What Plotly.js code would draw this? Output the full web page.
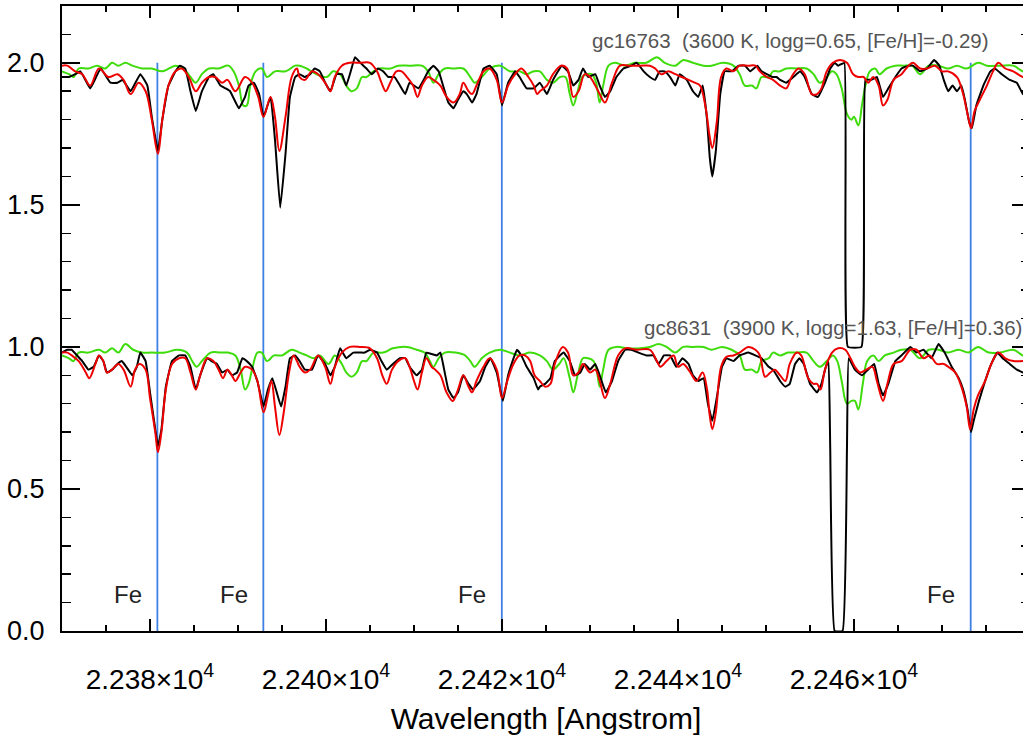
<!DOCTYPE html>
<html><head><meta charset="utf-8">
<script src="https://cdn.plot.ly/plotly-3.0.1.min.js"></script>
<style>html,body{margin:0;padding:0;overflow:hidden;background:#fff}</style>
</head><body><div id="plot" style="width:1032px;height:738px"></div>
<script>
// ---- data: [wavelength (Angstrom), normalized flux (+offset)] ----
const upperObserved = [[22370.0,1.95],[22370.8,1.95],[22371.5,1.96],[22372.1,1.97],[22373.2,1.91],[22374.4,1.98],[22375.5,1.93],[22376.3,1.93],[22376.9,1.94],[22377.8,1.90],[22378.9,1.96],[22379.7,1.92],[22380.2,1.81],[22380.9,1.69],[22381.4,1.80],[22382.1,1.92],[22382.9,1.97],[22383.4,1.99],[22384.0,1.98],[22384.6,1.90],[22385.2,1.83],[22385.9,1.90],[22386.7,1.95],[22387.2,1.96],[22388.0,1.92],[22388.6,1.91],[22389.1,1.90],[22390.1,1.84],[22390.8,1.88],[22391.2,1.92],[22391.8,1.93],[22392.4,1.89],[22392.9,1.81],[22393.7,1.88],[22394.2,1.73],[22394.8,1.49],[22395.4,1.68],[22395.9,1.88],[22396.5,1.95],
[22397.0,1.96],[22397.6,1.95],[22398.2,1.96],[22398.7,1.98],[22399.3,1.97],[22399.9,1.93],[22400.5,1.90],[22401.2,1.96],[22401.8,1.96],[22402.3,1.92],[22402.9,1.98],[22403.3,2.02],[22403.9,2.00],[22404.6,1.98],[22405.2,1.96],[22405.9,1.98],[22406.5,1.97],[22407.1,1.95],[22407.8,1.95],[22408.4,1.92],[22409.0,1.89],[22409.5,1.93],[22410.5,1.91],[22411.1,1.94],[22411.6,1.97],[22412.2,1.99],[22412.8,1.97],[22413.3,1.92],[22413.9,1.86],[22414.5,1.84],[22415.0,1.87],[22415.6,1.90],[22416.0,1.89],[22416.6,1.86],[22417.1,1.89],[22417.9,1.98],[22418.6,1.99],[22419.4,1.96],[22420.0,1.85],[22420.7,1.93],[22421.5,1.97],[22422.0,1.95],[22422.8,1.91],[22423.6,1.91],
[22424.3,1.93],[22425.1,1.89],[22425.8,1.94],[22426.8,1.99],[22427.5,1.97],[22428.1,1.92],[22428.7,1.94],[22429.2,1.98],[22429.8,1.95],[22430.6,1.96],[22431.1,1.92],[22431.7,1.88],[22432.3,1.90],[22433.0,1.95],[22433.8,1.98],[22434.7,1.99],[22435.3,2.00],[22436.1,1.97],[22436.8,1.95],[22437.4,1.94],[22437.9,1.97],[22438.5,1.97],[22439.1,1.95],[22439.7,1.92],[22440.2,1.96],[22441.0,1.94],[22441.7,1.90],[22442.3,1.88],[22442.8,1.92],[22443.3,1.80],[22443.6,1.67],[22443.9,1.60],[22444.3,1.69],[22444.8,1.89],[22445.3,1.97],[22446.1,1.97],[22446.9,1.99],[22447.6,1.99],[22448.2,1.97],[22449.0,1.99],[22449.5,1.97],[22450.1,1.96],[22450.7,1.95],[22451.2,1.95],
[22451.6,1.94],[22452.3,1.93],[22453.1,1.95],[22453.9,1.97],[22454.4,1.95],[22455.2,1.89],[22455.9,1.88],[22456.7,1.93],[22457.3,1.98],[22457.8,2.00],[22458.2,1.99],[22458.9,2.00],[22459.3,1.00],[22460.85,1.00],[22461.3,1.94],[22462.0,1.94],[22462.6,1.95],[22463.3,1.88],[22463.9,1.91],[22464.7,1.95],[22465.4,1.98],[22466.2,1.99],[22466.7,1.99],[22467.5,1.97],[22468.3,1.98],[22469.1,2.01],[22469.7,1.99],[22470.2,1.94],[22470.7,1.90],[22471.2,1.92],[22471.7,1.90],[22472.2,1.92],[22472.6,1.87],[22473.1,1.79],[22473.4,1.77],[22473.9,1.85],[22474.7,1.92],[22475.5,1.97],[22476.0,1.98],[22476.8,1.96],[22477.7,1.94],[22478.5,1.93],[22479.2,1.89],[22480.0,1.88]];

const upperModel = [[22370.0,1.99],[22370.6,1.99],[22371.5,1.97],[22372.3,1.96],[22373.2,1.92],[22374.2,1.98],[22375.3,1.95],[22376.3,1.96],[22377.0,1.94],[22377.8,1.89],[22378.7,1.93],[22379.5,1.90],[22380.2,1.80],[22380.9,1.68],[22381.4,1.80],[22382.1,1.92],[22382.9,1.97],[22383.6,1.98],[22384.4,1.95],[22385.2,1.90],[22385.9,1.93],[22386.7,1.95],[22387.4,1.95],[22388.2,1.93],[22388.8,1.94],[22389.7,1.90],[22390.8,1.95],[22391.6,1.93],[22392.3,1.88],[22392.9,1.81],[22393.7,1.88],[22394.2,1.81],[22394.7,1.69],[22395.4,1.81],[22396.1,1.95],[22396.7,1.98],
[22397.0,1.95],[22397.6,1.94],[22398.4,1.97],[22399.1,1.96],[22399.9,1.93],[22400.5,1.90],[22401.0,1.95],[22401.8,1.99],[22402.7,2.00],[22403.9,2.00],[22405.0,2.00],[22405.8,1.97],[22406.3,1.93],[22406.8,1.90],[22407.3,1.93],[22408.0,1.97],[22408.6,1.97],[22409.2,1.95],[22409.9,1.92],[22410.4,1.88],[22410.9,1.92],[22411.6,1.95],[22412.2,1.94],[22413.0,1.92],[22413.7,1.88],[22414.5,1.86],[22415.2,1.89],[22415.6,1.93],[22416.2,1.90],[22416.6,1.89],[22417.1,1.92],[22417.9,1.97],[22418.6,1.98],[22419.4,1.94],[22420.0,1.86],[22420.7,1.92],[22421.5,1.96],[22422.2,1.98],[22423.0,1.95],[22423.6,1.92],[22424.0,1.89],
[22424.3,1.90],[22425.1,1.92],[22425.8,1.96],[22426.7,1.99],[22427.4,1.98],[22428.1,1.88],[22428.7,1.90],[22429.4,1.96],[22430.0,1.95],[22430.6,1.92],[22431.1,1.89],[22431.7,1.86],[22432.5,1.93],[22433.4,1.99],[22434.4,1.99],[22435.7,1.99],[22436.8,1.99],[22437.4,1.98],[22438.1,1.96],[22438.9,1.97],[22439.7,1.96],[22440.4,1.95],[22441.2,1.94],[22441.9,1.93],[22442.5,1.92],[22443.1,1.85],[22443.6,1.74],[22443.9,1.70],[22444.4,1.79],[22444.9,1.95],[22445.5,1.98],[22446.3,1.97],[22447.0,1.99],[22448.0,1.99],[22448.8,1.99],[22449.3,1.97],[22450.1,1.95],[22450.8,1.94],
[22451.6,1.92],[22452.3,1.91],[22452.9,1.95],[22453.7,1.98],[22454.4,1.96],[22455.2,1.89],[22455.8,1.89],[22456.3,1.91],[22456.9,1.97],[22457.6,2.00],[22458.4,2.01],[22459.2,2.00],[22459.9,1.96],[22460.5,1.95],[22461.1,1.95],[22461.6,1.93],[22462.2,1.95],[22462.8,1.92],[22463.3,1.85],[22463.8,1.87],[22464.5,1.94],[22465.4,1.96],[22466.2,1.99],[22466.7,2.00],[22467.5,1.98],[22468.3,1.98],[22469.2,1.99],[22470.0,1.97],[22470.7,1.97],[22471.7,1.95],[22472.4,1.89],[22472.9,1.82],[22473.3,1.77],[22473.7,1.83],[22474.3,1.87],[22475.1,1.92],[22475.8,1.97],[22476.4,2.00],[22477.2,1.98],[22478.1,1.97],[22479.2,1.95],[22480.0,1.95]];

const upperTelluric = [[22370.0,1.97],[22370.8,1.96],[22371.3,1.95],[22371.9,1.98],[22373.0,1.98],[22374.0,1.99],[22374.9,1.98],[22375.7,2.00],[22376.4,1.99],[22377.2,2.00],[22378.0,1.99],[22379.1,1.98],[22380.2,1.98],[22381.4,1.97],[22382.9,1.99],[22383.8,1.98],[22384.6,1.95],[22385.2,1.93],[22385.9,1.96],[22386.7,1.98],[22387.8,1.98],[22388.9,1.99],[22389.5,1.97],[22390.1,1.92],[22390.6,1.85],[22391.0,1.85],[22391.4,1.92],[22392.0,1.97],[22392.7,1.98],[22393.3,1.95],[22394.2,1.97],[22395.4,1.97],[22396.5,1.99],
[22397.0,1.99],[22397.8,1.98],[22398.9,1.96],[22400.1,1.95],[22400.8,1.97],[22401.6,1.96],[22402.3,1.92],[22402.9,1.90],[22403.5,1.91],[22404.1,1.95],[22404.6,1.95],[22405.4,1.97],[22406.1,1.98],[22407.3,1.98],[22408.2,1.99],[22409.5,1.99],[22410.9,1.99],[22411.6,1.97],[22412.2,1.93],[22412.8,1.96],[22413.5,1.98],[22414.5,1.98],[22415.6,1.98],[22416.4,1.95],[22416.9,1.93],[22417.7,1.95],[22418.6,1.98],[22419.8,1.99],[22420.9,1.97],[22422.0,1.97],[22422.8,1.96],[22423.6,1.97],
[22424.3,1.97],[22425.1,1.94],[22425.8,1.93],[22426.6,1.95],[22427.2,1.95],[22427.7,1.89],[22428.1,1.85],[22428.6,1.90],[22429.1,1.95],[22429.6,1.96],[22430.2,1.96],[22430.7,1.93],[22431.1,1.86],[22431.5,1.92],[22432.1,1.99],[22432.8,2.00],[22434.0,1.99],[22435.1,2.00],[22436.4,2.00],[22437.6,2.02],[22438.5,2.00],[22439.7,1.99],[22440.6,2.01],[22441.7,2.00],[22442.9,1.99],[22443.8,1.99],[22445.1,2.00],[22446.3,1.99],[22447.0,1.96],[22447.6,1.92],[22448.4,1.92],[22448.9,1.91],[22449.5,1.95],[22450.3,1.95],[22450.8,1.97],
[22451.6,1.97],[22452.3,1.98],[22453.5,1.98],[22454.6,1.98],[22455.4,1.96],[22456.1,1.93],[22456.7,1.94],[22457.5,1.97],[22458.0,1.96],[22458.6,1.91],[22459.2,1.82],[22459.7,1.80],[22460.0,1.81],[22460.5,1.78],[22460.9,1.85],[22461.3,1.92],[22461.8,1.97],[22462.4,1.98],[22462.9,1.96],[22463.7,1.98],[22464.7,1.99],[22465.6,1.99],[22466.6,1.99],[22467.5,1.96],[22468.5,1.99],[22469.6,1.99],[22470.7,1.98],[22471.7,1.99],[22472.8,1.98],[22474.1,2.00],[22475.1,1.99],[22476.6,1.99],[22478.1,1.99],[22479.2,1.97],[22480.0,1.97]];

const lowerObserved = [[22370.0,0.98],[22370.6,0.99],[22371.1,0.99],[22371.7,0.97],[22372.3,0.95],[22373.0,0.92],[22373.6,0.93],[22374.2,0.97],[22374.7,0.95],[22375.1,0.91],[22375.7,0.92],[22376.3,0.94],[22376.8,0.95],[22377.3,0.93],[22378.0,0.90],[22378.5,0.93],[22378.9,0.98],[22379.5,0.95],[22380.0,0.84],[22380.6,0.71],[22380.9,0.65],[22381.3,0.71],[22381.8,0.86],[22382.5,0.95],[22383.3,0.97],[22384.0,0.97],[22384.6,0.93],[22385.2,0.85],[22385.7,0.90],[22386.5,0.96],[22387.0,0.95],[22387.6,0.94],[22388.2,0.91],[22388.8,0.92],[22389.3,0.90],[22389.9,0.91],[22390.5,0.96],[22391.0,0.95],[22391.6,0.93],[22392.2,0.88],[22392.9,0.79],[22393.4,0.85],[22393.9,0.89],[22394.4,0.84],[22394.9,0.79],[22395.4,0.86],[22395.9,0.96],[22396.5,0.97],
[22397.0,0.95],[22397.6,0.92],[22398.4,0.92],[22399.1,0.97],[22399.9,0.94],[22400.5,0.90],[22401.0,0.93],[22401.6,0.995],[22402.3,0.96],[22403.1,0.98],[22403.9,0.98],[22404.4,0.98],[22405.0,0.99],[22405.8,0.98],[22406.3,0.95],[22406.9,0.92],[22407.6,0.94],[22408.4,0.96],[22409.0,0.96],[22409.5,0.93],[22410.3,0.90],[22410.9,0.92],[22411.4,0.98],[22412.0,0.975],[22412.6,0.97],[22413.0,0.98],[22413.3,0.94],[22413.9,0.85],[22414.5,0.82],[22415.0,0.84],[22415.6,0.90],[22416.2,0.87],[22416.7,0.85],[22417.5,0.88],[22418.1,0.93],[22418.7,0.96],[22419.4,0.91],[22420.1,0.81],[22420.7,0.90],[22421.2,0.95],[22421.7,0.99],[22422.2,0.97],[22422.8,0.93],[22423.6,0.89],[22424.1,0.85],
[22424.3,0.86],[22424.9,0.87],[22425.5,0.89],[22426.0,0.95],[22427.0,0.98],[22427.7,0.95],[22428.3,0.90],[22428.9,0.91],[22429.4,0.94],[22430.0,0.92],[22430.6,0.94],[22431.1,0.90],[22431.8,0.84],[22432.5,0.88],[22433.2,0.95],[22434.0,0.99],[22434.7,0.99],[22435.5,0.98],[22436.4,0.97],[22437.2,0.97],[22437.8,0.94],[22438.4,0.97],[22439.1,0.97],[22439.8,0.93],[22440.5,0.96],[22441.2,0.94],[22441.7,0.90],[22442.3,0.88],[22442.9,0.89],[22443.4,0.80],[22443.9,0.74],[22444.4,0.82],[22445.0,0.93],[22445.5,0.96],[22446.3,0.95],[22447.0,0.97],[22448.0,0.98],[22448.8,0.97],[22449.5,0.96],[22450.3,0.93],[22450.8,0.92],
[22451.6,0.88],[22452.2,0.86],[22452.7,0.87],[22453.3,0.94],[22453.8,0.96],[22454.3,0.94],[22455.0,0.87],[22455.8,0.84],[22456.3,0.87],[22456.8,0.93],[22457.1,0.95],[22457.3,0.64],[22457.8,0.00],[22458.7,0.00],[22459.2,0.64],[22459.4,0.96],[22460.1,0.92],[22460.9,0.90],[22461.6,0.92],[22462.3,0.94],[22462.8,0.87],[22463.3,0.83],[22463.9,0.87],[22464.7,0.95],[22465.4,0.97],[22466.4,1.00],[22467.1,0.98],[22467.9,0.99],[22468.8,0.96],[22469.6,1.01],[22470.3,0.98],[22471.1,0.93],[22471.9,0.89],[22472.4,0.85],[22472.9,0.78],[22473.3,0.70],[22473.6,0.74],[22474.2,0.81],[22474.9,0.88],[22475.6,0.94],[22476.3,0.98],[22476.9,0.96],[22477.7,0.94],[22478.5,0.92],[22479.2,0.91],[22480.0,0.90]];

const lowerModel = [[22370.0,0.98],[22370.6,0.98],[22371.1,0.97],[22371.9,0.95],[22372.7,0.91],[22373.1,0.89],[22373.8,0.94],[22374.2,0.97],[22374.7,0.95],[22375.1,0.91],[22375.7,0.92],[22376.4,0.94],[22377.0,0.92],[22377.8,0.86],[22378.3,0.92],[22378.8,0.94],[22379.5,0.92],[22380.0,0.82],[22380.6,0.70],[22380.9,0.63],[22381.3,0.70],[22381.8,0.85],[22382.5,0.94],[22383.3,0.96],[22384.0,0.96],[22384.6,0.91],[22385.2,0.85],[22385.7,0.90],[22386.5,0.96],[22387.2,0.95],[22387.8,0.92],[22388.3,0.89],[22388.8,0.92],[22389.3,0.90],[22389.7,0.88],[22390.3,0.91],[22390.8,0.93],[22391.6,0.92],[22392.2,0.88],[22392.9,0.77],[22393.4,0.83],[22393.8,0.88],[22394.2,0.79],[22394.7,0.69],[22395.2,0.77],[22395.8,0.91],[22396.3,0.97],[22396.7,0.95],
[22397.0,0.93],[22397.6,0.91],[22398.2,0.92],[22399.1,0.97],[22399.9,0.93],[22400.5,0.87],[22401.0,0.93],[22401.8,0.98],[22402.7,1.00],[22403.9,1.00],[22405.0,0.995],[22405.8,0.96],[22406.4,0.90],[22406.9,0.87],[22407.5,0.92],[22408.2,0.95],[22409.0,0.96],[22409.5,0.93],[22410.0,0.88],[22410.4,0.85],[22410.9,0.91],[22411.4,0.96],[22412.0,0.93],[22412.4,0.92],[22413.0,0.90],[22413.7,0.84],[22414.4,0.81],[22415.0,0.85],[22415.6,0.90],[22416.2,0.86],[22416.6,0.84],[22417.1,0.88],[22417.9,0.93],[22418.6,0.96],[22419.4,0.92],[22420.0,0.82],[22420.6,0.88],[22421.3,0.94],[22422.0,0.97],[22422.6,0.97],[22423.2,0.95],[22423.7,0.90],
[22424.3,0.88],[22424.9,0.86],[22425.5,0.87],[22426.0,0.94],[22426.9,1.00],[22427.5,0.98],[22428.1,0.90],[22428.7,0.91],[22429.2,0.94],[22430.0,0.91],[22430.6,0.92],[22431.1,0.88],[22431.7,0.82],[22432.3,0.87],[22433.2,0.97],[22434.0,0.995],[22435.3,0.99],[22436.8,0.99],[22437.6,0.95],[22438.0,0.93],[22438.7,0.95],[22439.5,0.97],[22440.0,0.93],[22440.6,0.94],[22441.4,0.91],[22442.1,0.88],[22442.8,0.91],[22443.3,0.85],[22443.6,0.76],[22443.9,0.71],[22444.3,0.77],[22444.9,0.93],[22445.5,0.965],[22446.3,0.97],[22447.0,0.98],[22448.0,1.00],[22448.8,0.99],[22449.3,0.97],[22449.9,0.895],[22450.5,0.91],[22451.0,0.92],
[22451.6,0.90],[22452.2,0.88],[22452.7,0.94],[22453.5,0.98],[22454.0,0.97],[22454.8,0.89],[22455.4,0.87],[22455.8,0.87],[22456.2,0.85],[22456.7,0.92],[22457.5,0.98],[22458.2,0.995],[22459.0,0.99],[22459.6,0.96],[22460.1,0.93],[22460.7,0.91],[22461.4,0.92],[22462.1,0.93],[22462.6,0.88],[22463.3,0.81],[22463.8,0.87],[22464.5,0.94],[22465.4,0.95],[22466.4,0.99],[22467.1,0.99],[22467.9,0.96],[22468.6,0.97],[22469.4,0.94],[22470.2,0.94],[22470.7,0.93],[22471.5,0.91],[22472.2,0.86],[22472.8,0.79],[22473.2,0.71],[22473.6,0.78],[22474.1,0.83],[22474.9,0.88],[22475.6,0.94],[22476.4,0.98],[22477.2,0.96],[22478.1,0.95],[22479.2,0.95],[22480.0,0.95]];

const lowerTelluric = [[22370.0,0.97],[22370.8,0.96],[22371.3,0.95],[22371.9,0.98],[22373.0,0.98],[22374.2,0.99],[22374.9,0.98],[22375.7,0.995],[22376.4,0.98],[22377.2,1.01],[22378.1,0.99],[22379.1,0.98],[22380.2,0.98],[22381.7,0.98],[22383.1,0.99],[22384.2,0.98],[22384.8,0.95],[22385.3,0.93],[22385.9,0.95],[22386.9,0.98],[22388.0,0.98],[22388.9,0.98],[22389.7,0.97],[22390.3,0.92],[22390.8,0.85],[22391.2,0.87],[22391.6,0.92],[22392.2,0.98],[22392.7,0.98],[22393.3,0.95],[22394.1,0.97],[22395.0,0.97],[22396.1,0.99],
[22397.0,0.98],[22397.8,0.97],[22398.6,0.96],[22399.3,0.97],[22400.3,0.94],[22401.0,0.97],[22401.8,0.94],[22402.3,0.91],[22402.9,0.895],[22403.5,0.91],[22404.1,0.95],[22404.6,0.95],[22405.4,0.98],[22406.5,0.98],[22407.6,0.995],[22409.2,1.00],[22410.3,0.99],[22411.2,0.98],[22411.8,0.95],[22412.2,0.93],[22412.8,0.96],[22413.5,0.98],[22414.7,0.98],[22415.8,0.97],[22416.4,0.95],[22416.9,0.93],[22417.7,0.96],[22418.6,0.98],[22419.8,0.99],[22420.9,0.98],[22422.0,0.97],[22423.2,0.98],
[22424.3,0.97],[22425.1,0.95],[22425.8,0.92],[22426.5,0.94],[22427.0,0.96],[22427.7,0.89],[22428.1,0.84],[22428.6,0.90],[22429.2,0.96],[22429.8,0.96],[22430.4,0.95],[22430.8,0.91],[22431.1,0.86],[22431.5,0.92],[22432.1,0.99],[22433.0,1.00],[22434.2,0.995],[22435.7,0.995],[22436.8,1.00],[22437.8,1.01],[22438.7,1.00],[22439.7,0.98],[22440.6,1.00],[22441.7,1.00],[22442.9,1.00],[22443.8,0.99],[22445.0,1.00],[22446.1,0.99],[22447.0,0.97],[22447.6,0.92],[22448.4,0.92],[22449.0,0.91],[22449.5,0.95],[22450.3,0.96],[22450.8,0.98],
[22451.6,0.97],[22452.5,0.98],[22453.5,0.98],[22454.6,0.98],[22455.4,0.95],[22456.1,0.93],[22456.9,0.95],[22457.6,0.97],[22458.1,0.95],[22458.6,0.88],[22459.2,0.80],[22459.7,0.81],[22460.1,0.81],[22460.5,0.78],[22461.0,0.87],[22461.5,0.95],[22462.2,0.97],[22462.8,0.95],[22463.5,0.97],[22464.5,0.98],[22465.4,0.99],[22466.4,0.99],[22467.5,0.96],[22468.5,0.99],[22469.6,0.99],[22470.7,0.98],[22471.9,0.99],[22473.0,0.98],[22474.1,1.00],[22475.3,0.98],[22476.6,0.98],[22478.1,0.99],[22479.2,0.97],[22480.0,0.97]];

const feLines = [22380.84, 22392.88, 22419.98, 22473.26];
const feLabel = 'Fe';
const starLabels = [
  {text: 'gc16763\u00a0\u00a0(3600 K, logg=0.65, [Fe/H]=-0.29)', x: 22475.6, y: 2.08},
  {text: 'gc8631\u00a0\u00a0(3900 K, logg=1.63, [Fe/H]=0.36)', x: 22479.3, y: 1.067}
];
const xTickVals = [22380, 22400, 22420, 22440, 22460];
const xTickText = ['2.238×10<sup>4</sup>', '2.240×10<sup>4</sup>', '2.242×10<sup>4</sup>', '2.244×10<sup>4</sup>', '2.246×10<sup>4</sup>'];
const yTickVals = [0, 0.5, 1.0, 1.5, 2.0];
const yTickText = ['0.0', '0.5', '1.0', '1.5', '2.0'];

// ---- traces ----
const BLUE = '#3f80e6', GREEN = '#3ddc0a', RED = '#ee0000', BLACK = '#000000';
function spec(pairs, color, smoothing) {
  return {type: 'scatter', mode: 'lines', x: pairs.map(p => p[0]), y: pairs.map(p => p[1]),
          line: {color: color, width: 2, shape: 'spline', smoothing: smoothing}, hoverinfo: 'skip'};
}
const traces = [];
feLines.forEach(w => traces.push({type: 'scatter', mode: 'lines', x: [w, w], y: [0, 2.0],
  line: {color: BLUE, width: 1.8}, hoverinfo: 'skip'}));
traces.push(spec(lowerTelluric, GREEN, 1.0));
traces.push(spec(upperTelluric, GREEN, 1.0));
traces.push(spec(lowerObserved, BLACK, 0.3));
traces.push(spec(upperObserved, BLACK, 0.3));
traces.push(spec(lowerModel, RED, 1.0));
traces.push(spec(upperModel, RED, 1.0));

const annotations = [];
feLines.forEach(w => annotations.push({x: w - 1.55, y: 0.13, xref: 'x', yref: 'y', text: feLabel,
  showarrow: false, xanchor: 'right', yanchor: 'middle', font: {size: 24, color: '#222'}}));
starLabels.forEach(s => annotations.push({x: s.x, y: s.y, xref: 'x', yref: 'y', text: s.text,
  showarrow: false, xanchor: 'right', yanchor: 'middle', font: {size: 20.5, color: '#555'}}));

const axisCommon = {showline: true, linewidth: 2, linecolor: '#000', mirror: 'allticks', ticks: 'inside',
  tickcolor: '#000', tickwidth: 1.5, showgrid: false, zeroline: false};

const layout = {
  width: 1032, height: 738,
  margin: {l: 62, r: 2, t: 6, b: 107},
  paper_bgcolor: '#fff', plot_bgcolor: '#fff', showlegend: false,
  font: {family: 'Liberation Sans, Arial, Helvetica, sans-serif', color: '#000'},
  xaxis: Object.assign({}, axisCommon, {
    range: [22370, 22480], tickmode: 'array', tickvals: xTickVals, ticktext: xTickText,
    ticklen: 12, tickfont: {size: 28}, ticklabelstandoff: 22,
    minor: {dtick: 5, tick0: 22370, ticks: 'inside', ticklen: 6, tickcolor: '#000', tickwidth: 1.5, showgrid: false},
    title: {text: 'Wavelength [Angstrom]', font: {size: 30}, standoff: 14}
  }),
  yaxis: Object.assign({}, axisCommon, {
    range: [0, 2.2], tickmode: 'array', tickvals: yTickVals, ticktext: yTickText,
    ticklen: 18, tickfont: {size: 27}, ticklabelstandoff: 10,
    minor: {dtick: 0.1, tick0: 0, ticks: 'inside', ticklen: 9, tickcolor: '#000', tickwidth: 1.5, showgrid: false}
  }),
  annotations: annotations
};

Plotly.newPlot('plot', traces, layout, {displayModeBar: false, staticPlot: true});
</script>
</body></html>
